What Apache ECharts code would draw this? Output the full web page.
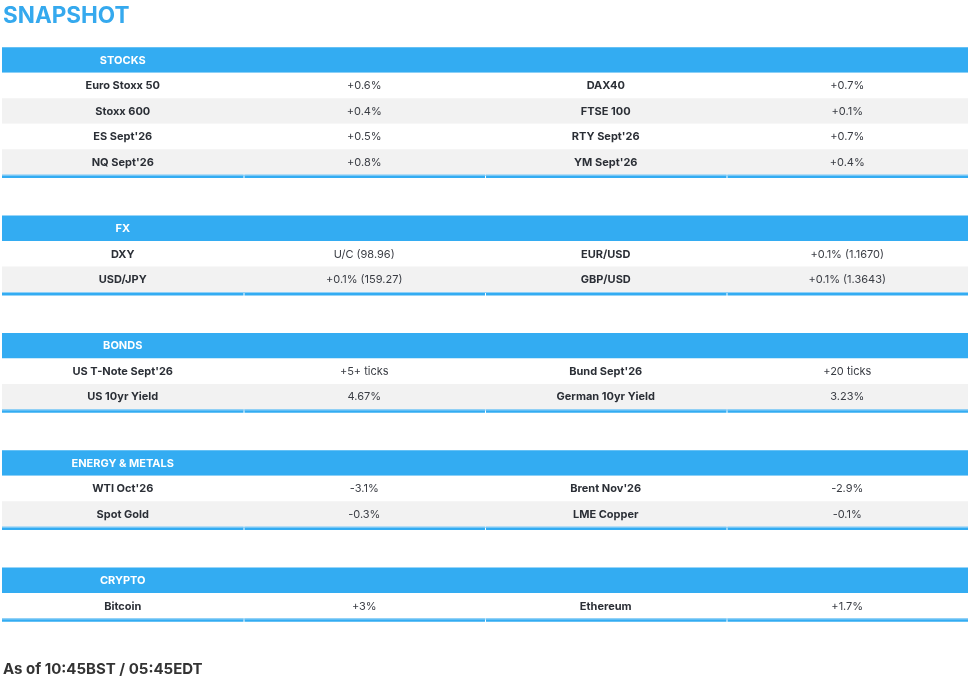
<!DOCTYPE html>
<html>
<head>
<meta charset="utf-8">
<title>Snapshot</title>
<script src="https://cdn.jsdelivr.net/npm/echarts@6/dist/echarts.min.js"></script>
<style>
  html, body { margin: 0; padding: 0; background: #fff; }
  #main { width: 972px; height: 679px; }
</style>
</head>
<body>
<div id="main"></div>
<script>
// section titles
var sectionNames = ['STOCKS', 'FX', 'BONDS', 'ENERGY & METALS', 'CRYPTO'];

// stocks
var stocksLeft = ['Euro Stoxx 50', 'Stoxx 600', "ES Sept'26", "NQ Sept'26"];
var stocksLeftChg = ['+0.6%', '+0.4%', '+0.5%', '+0.8%'];
var stocksRight = ['DAX40', 'FTSE 100', "RTY Sept'26", "YM Sept'26"];
var stocksRightChg = ['+0.7%', '+0.1%', '+0.7%', '+0.4%'];

// fx
var fxLeft = ['DXY', 'USD/JPY'];
var fxLeftChg = ['U/C (98.96)', '+0.1% (159.27)'];
var fxRight = ['EUR/USD', 'GBP/USD'];
var fxRightChg = ['+0.1% (1.1670)', '+0.1% (1.3643)'];

// bonds
var bondsLeft = ["US T-Note Sept'26", 'US 10yr Yield'];
var bondsLeftChg = ['+5+ ticks', '4.67%'];
var bondsRight = ["Bund Sept'26", 'German 10yr Yield'];
var bondsRightChg = ['+20 ticks', '3.23%'];

// energy & metals
var energyLeft = ["WTI Oct'26", 'Spot Gold'];
var energyLeftChg = ['-3.1%', '-0.3%'];
var energyRight = ["Brent Nov'26", 'LME Copper'];
var energyRightChg = ['-2.9%', '-0.1%'];

// crypto
var cryptoLeft = ['Bitcoin'];
var cryptoLeftChg = ['+3%'];
var cryptoRight = ['Ethereum'];
var cryptoRightChg = ['+1.7%'];

var footerText = 'As of 10:45BST / 05:45EDT';

var sectionData = [
    [stocksLeft, stocksLeftChg, stocksRight, stocksRightChg],
    [fxLeft, fxLeftChg, fxRight, fxRightChg],
    [bondsLeft, bondsLeftChg, bondsRight, bondsRightChg],
    [energyLeft, energyLeftChg, energyRight, energyRightChg],
    [cryptoLeft, cryptoLeftChg, cryptoRight, cryptoRightChg]
];

// build table rows in "row units" on the y axis
var BLUE = '#33acf2';
var GAP = 1.47;
var LINE = 0.13;
var rows = [];
var y = 0;
sectionNames.forEach(function (name, s) {
    rows.push({kind: 'header', y: y, h: 1, label: name});
    y += 1;
    var cols = sectionData[s];
    for (var i = 0; i < cols[0].length; i++) {
        rows.push({kind: 'row', y: y, h: 1, stripe: i % 2 === 1,
            cells: [cols[0][i], cols[1][i], cols[2][i], cols[3][i]]});
        y += 1;
    }
    rows.push({kind: 'line', y: y, h: LINE});
    y += LINE + GAP;
});

var myChart = echarts.init(document.getElementById('main'));

function renderItem(params, api) {
    var r = rows[params.dataIndex];
    var p0 = api.coord([0, r.y]);
    var p1 = api.coord([4, r.y + r.h]);
    var w = p1[0] - p0[0];
    var h = p1[1] - p0[1];
    var children = [];
    if (r.kind === 'header') {
        children.push({type: 'rect', shape: {x: p0[0], y: p0[1], width: w, height: h},
            style: {fill: BLUE}});
        var c = api.coord([0.5, r.y + r.h / 2]);
        children.push({type: 'text', x: c[0], y: c[1] + 0.5, style: {
            text: r.label, fill: '#fff', font: 'bold 11px Inter',
            align: 'center', verticalAlign: 'middle'}});
    } else if (r.kind === 'row') {
        children.push({type: 'rect', shape: {x: p0[0], y: p0[1], width: w, height: h},
            style: {fill: r.stripe ? '#f2f2f2' : '#ffffff'}});
        for (var k = 0; k < 4; k++) {
            var t = api.coord([k + 0.5, r.y + r.h / 2]);
            var bold = (k % 2 === 0);
            children.push({type: 'text', x: t[0], y: t[1] + 0.5, style: {
                text: r.cells[k],
                fill: bold ? '#2b2f36' : '#3a3d44',
                font: (bold ? 'bold ' : '') + '11px Inter',
                align: 'center', verticalAlign: 'middle'}});
        }
    } else {
        for (var j = 0; j < 4; j++) {
            var a = api.coord([j, r.y]);
            var b = api.coord([j + 1, r.y + r.h]);
            children.push({type: 'rect', shape: {x: a[0] + (j ? 1 : 0), y: a[1],
                width: b[0] - a[0] - (j ? 1 : 0), height: b[1] - a[1]},
                style: {fill: BLUE}});
        }
        children.push({type: 'rect', shape: {x: p0[0], y: p0[1], width: w, height: 1},
            style: {fill: '#8fd0f7'}});
    }
    return {type: 'group', children: children};
}

var option = {
    animation: false,
    title: [
        {text: 'SNAPSHOT', left: 3, top: 5, padding: 0,
            textStyle: {color: '#35a9ee', fontSize: 22.5, fontWeight: 'bold', fontFamily: 'Inter'}},
        {text: footerText, left: 3, top: 662, padding: 0,
            textStyle: {color: '#333', fontSize: 15, fontWeight: 'bold', fontFamily: 'Inter'}}
    ],
    grid: {left: 2, right: 4, top: 47.3, height: 25.5 * 24},
    xAxis: {type: 'value', min: 0, max: 4, show: false},
    yAxis: {type: 'value', min: 0, max: 24, inverse: true, show: false},
    series: [{
        type: 'custom',
        renderItem: renderItem,
        data: rows.map(function (r, i) { return [i, r.y]; }),
        encode: {x: -1, y: 1},
        silent: true
    }]
};
myChart.setOption(option);
</script>
</body>
</html>
